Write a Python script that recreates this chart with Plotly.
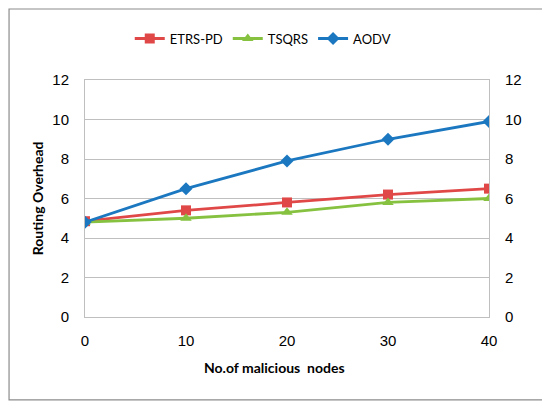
import plotly.graph_objects as go

nodes = [0, 10, 20, 30, 40]
etrs_pd = [4.85, 5.4, 5.8, 6.2, 6.5]
tsqrs = [4.8, 5.0, 5.3, 5.8, 6.0]
aodv = [4.8, 6.5, 7.9, 9.0, 9.9]
y_ticks = [0, 2, 4, 6, 8, 10, 12]

RED = "#E04848"
GREEN = "#86C240"
BLUE = "#1B78C0"
GRID = "#BFBFBF"

fig = go.Figure()
fig.add_trace(go.Scatter(x=nodes, y=etrs_pd, name="ETRS-PD", mode="lines+markers",
                         line=dict(color=RED, width=2.8),
                         marker=dict(symbol="square", size=10, color=RED)))
fig.add_trace(go.Scatter(x=nodes, y=tsqrs, name="TSQRS", mode="lines+markers",
                         line=dict(color=GREEN, width=2.8),
                         marker=dict(symbol="triangle-up", size=10, color=GREEN)))
fig.add_trace(go.Scatter(x=nodes, y=aodv, name="AODV", mode="lines+markers",
                         line=dict(color=BLUE, width=2.8),
                         marker=dict(symbol="diamond", size=10, color=BLUE)))
# carrier for the right-hand axis
fig.add_trace(go.Scatter(x=nodes, y=aodv, yaxis="y2", mode="lines", opacity=0,
                         line=dict(width=0), showlegend=False, hoverinfo="skip"))

tick_font = dict(family="Liberation Sans, Arial", size=15, color="#000")
# the page body adds an 8px offset, so the figure is drawn 8px smaller
fig.update_layout(
    width=542, height=403,
    margin=dict(l=77, r=61, t=72, b=94),
    paper_bgcolor="white", plot_bgcolor="white",
    showlegend=True,
    legend=dict(orientation="h", x=0.44, y=1.175, xanchor="center", yanchor="middle",
                font=dict(family="Lato, Calibri", size=13, color="#000"),
                itemwidth=30, tracegroupgap=0),
    xaxis=dict(range=[0, 40], tickvals=nodes, showgrid=False, zeroline=False,
               showline=True, linecolor=GRID, linewidth=1, mirror=True,
               ticks="", tickfont=tick_font, ticklabelstandoff=10),
    yaxis=dict(range=[0, 12], tickvals=y_ticks, showgrid=True, gridcolor=GRID,
               gridwidth=1, zeroline=False, showline=True, linecolor=GRID,
               ticks="", tickfont=tick_font, ticklabelstandoff=12),
    yaxis2=dict(range=[0, 12], tickvals=y_ticks, overlaying="y", side="right",
                showgrid=False, zeroline=False, showline=True, linecolor=GRID,
                ticks="", tickfont=tick_font, ticklabelstandoff=12),
    annotations=[
        dict(text="<b>Routing Overhead</b>", xref="paper", yref="paper",
             x=-0.143, y=0.5, textangle=-90, showarrow=False,
             font=dict(family="Lato, Calibri", size=14, color="#000")),
        dict(text="<b>No.of malicious  nodes</b>", xref="paper", yref="paper",
             x=0.47, y=-0.257, showarrow=False,
             font=dict(family="Lato, Calibri", size=14, color="#000")),
    ],
    shapes=[
        dict(type="rect", xref="paper", yref="paper",
             x0=-0.188, x1=1.1337, y0=-0.350, y1=1.2996,
             line=dict(color="#8C8C8C", width=1.2), layer="below"),
    ],
)

fig.write_html("out.html")
